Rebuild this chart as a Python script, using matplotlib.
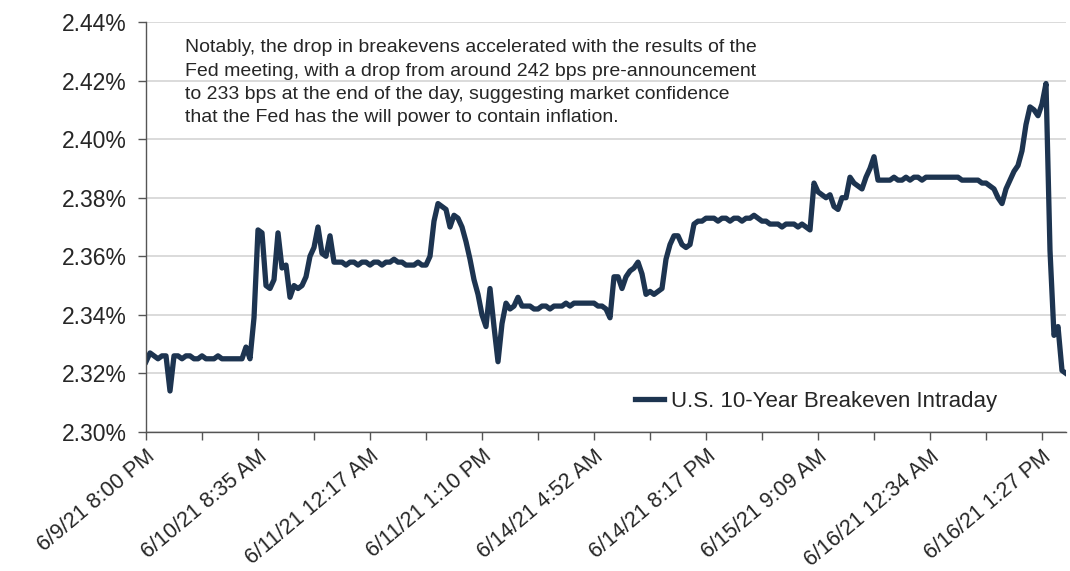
import matplotlib
matplotlib.use('Agg')
import matplotlib.pyplot as plt
import matplotlib.transforms as mtransforms
from matplotlib.ticker import MultipleLocator, FuncFormatter

# ─── Data (one value every ~4 px of the x axis) ───
TICK_LABELS = ['6/9/21 8:00 PM', '6/10/21 8:35 AM', '6/11/21 12:17 AM', '6/11/21 1:10 PM',
               '6/14/21 4:52 AM', '6/14/21 8:17 PM', '6/15/21 9:09 AM', '6/16/21 12:34 AM',
               '6/16/21 1:27 PM']
PTS_PER_LABEL = 28

seg0 = [2.324, 2.327, 2.326, 2.325, 2.326, 2.326, 2.314, 2.326, 2.326, 2.325,
        2.326, 2.326, 2.325, 2.325, 2.326, 2.325, 2.325, 2.325, 2.326, 2.325,
        2.325, 2.325, 2.325, 2.325, 2.325, 2.329, 2.325, 2.339]
seg1 = [2.369, 2.368, 2.350, 2.349, 2.352, 2.368, 2.356, 2.357, 2.346, 2.350,
        2.349, 2.350, 2.353, 2.360, 2.363, 2.370, 2.361, 2.360, 2.367, 2.358,
        2.358, 2.358, 2.357, 2.358, 2.358, 2.357, 2.358, 2.358]
seg2 = [2.357, 2.358, 2.358, 2.357, 2.358, 2.358, 2.359, 2.358, 2.358, 2.357,
        2.357, 2.357, 2.358, 2.357, 2.357, 2.360, 2.372, 2.378, 2.377, 2.376,
        2.370, 2.374, 2.373, 2.370, 2.365, 2.359, 2.352, 2.347]
seg3 = [2.340, 2.336, 2.349, 2.336, 2.324, 2.337, 2.344, 2.342, 2.343, 2.346,
        2.343, 2.343, 2.343, 2.342, 2.342, 2.343, 2.343, 2.342, 2.343, 2.343,
        2.343, 2.344, 2.343, 2.344, 2.344, 2.344, 2.344, 2.344]
seg4 = [2.344, 2.343, 2.343, 2.342, 2.339, 2.353, 2.353, 2.349, 2.353, 2.355,
        2.356, 2.358, 2.354, 2.347, 2.348, 2.347, 2.348, 2.349, 2.359, 2.364,
        2.367, 2.367, 2.364, 2.363, 2.364, 2.371, 2.372, 2.372]
seg5 = [2.373, 2.373, 2.373, 2.372, 2.373, 2.373, 2.372, 2.373, 2.373, 2.372,
        2.373, 2.373, 2.374, 2.373, 2.372, 2.372, 2.371, 2.371, 2.371, 2.370,
        2.371, 2.371, 2.371, 2.370, 2.371, 2.370, 2.369, 2.385]
seg6 = [2.382, 2.381, 2.380, 2.381, 2.377, 2.376, 2.380, 2.380, 2.387, 2.385,
        2.384, 2.383, 2.387, 2.390, 2.394, 2.386, 2.386, 2.386, 2.386, 2.387,
        2.386, 2.386, 2.387, 2.386, 2.387, 2.387, 2.386, 2.387]
seg7 = [2.387, 2.387, 2.387, 2.387, 2.387, 2.387, 2.387, 2.387, 2.386, 2.386,
        2.386, 2.386, 2.386, 2.385, 2.385, 2.384, 2.383, 2.380, 2.378, 2.383,
        2.386, 2.389, 2.391, 2.396, 2.405, 2.411, 2.410, 2.408]
seg8 = [2.412, 2.419, 2.362, 2.333, 2.336, 2.321, 2.320]

BREAKEVEN = seg0 + seg1 + seg2 + seg3 + seg4 + seg5 + seg6 + seg7 + seg8

NOTE = ("Notably, the drop in breakevens accelerated with the results of the\n"
        "Fed meeting, with a drop from around 242 bps pre-announcement\n"
        "to 233 bps at the end of the day, suggesting market confidence\n"
        "that the Fed has the will power to contain inflation.")

LINE_COLOR = '#1d3450'
TEXT_COLOR = '#262626'
plt.rcParams['font.family'] = ['Liberation Sans', 'DejaVu Sans']

fig = plt.figure(figsize=(10.70, 5.71), dpi=100)
ax = fig.add_axes([146/1070, 1 - 432/571, (1066 - 146)/1070, (432 - 22)/571])

x = list(range(len(BREAKEVEN)))
ax.plot(x, BREAKEVEN, color=LINE_COLOR, linewidth=3.8, solid_joinstyle='round',
        label='U.S. 10-Year Breakeven Intraday')

ax.set_xlim(0, len(BREAKEVEN) - 1)
ax.set_ylim(2.30, 2.44)
ax.yaxis.set_major_locator(MultipleLocator(0.02))
ax.yaxis.set_major_formatter(FuncFormatter(lambda v, _: f'{v:.2f}%'))
ax.grid(True, axis='y', color='#d4d4d4', linewidth=1.2)
ax.set_axisbelow(True)

ax.set_xticks([i * PTS_PER_LABEL for i in range(len(TICK_LABELS))])
ax.set_xticklabels(TICK_LABELS, rotation=40, ha='right', va='top', rotation_mode='anchor')
ax.xaxis.set_minor_locator(MultipleLocator(PTS_PER_LABEL / 2))
shift = mtransforms.ScaledTranslation(5/100, 0, fig.dpi_scale_trans)
for lbl in ax.get_xticklabels():
    lbl.set_transform(lbl.get_transform() + shift)

for s in ('top', 'right'):
    ax.spines[s].set_visible(False)
for s in ('left', 'bottom'):
    ax.spines[s].set_color('#555555')
    ax.spines[s].set_linewidth(1.0)

ax.tick_params(axis='y', direction='out', length=6, width=1, color='#555555',
               labelsize=16.5, labelcolor=TEXT_COLOR, pad=8)
ax.tick_params(axis='x', which='both', direction='out', length=6, width=1, color='#555555',
               labelsize=15.5, labelcolor=TEXT_COLOR, pad=4)

fig.text(185/1070, 1 - 39/571, NOTE, fontsize=14, color=TEXT_COLOR, va='top', ha='left',
         linespacing=1.5)

ax.legend(loc='center left', bbox_to_anchor=(624/1070, 1 - 401/571), bbox_transform=fig.transFigure,
          frameon=False, fontsize=16, handlelength=1.3, handletextpad=0.3, borderpad=0,
          labelcolor=TEXT_COLOR)

fig.savefig('out.png', dpi=100)
